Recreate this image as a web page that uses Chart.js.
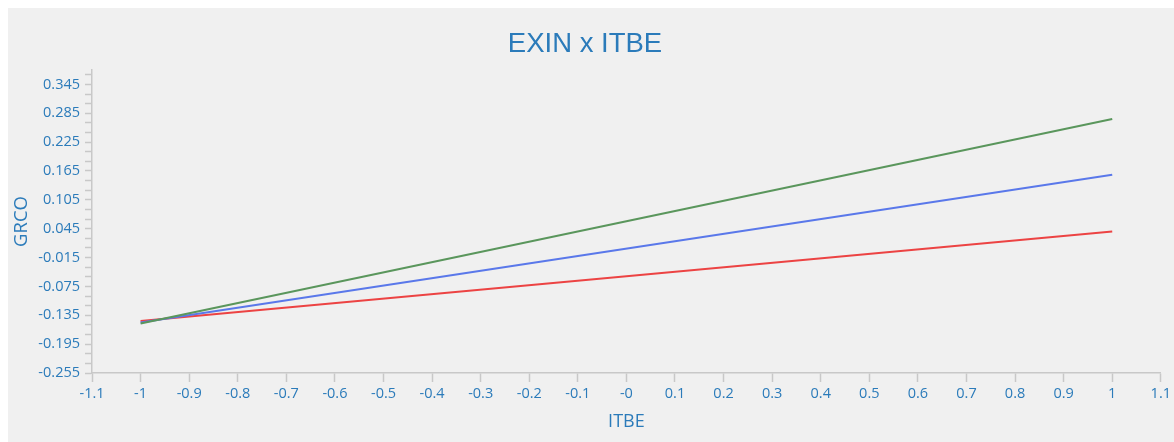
<!DOCTYPE html>
<html>
<head>
<meta charset="utf-8">
<script src="https://cdn.jsdelivr.net/npm/chart.js@4"></script>
<style>
  html, body { margin: 0; padding: 0; background: #ffffff; }
  #wrap { position: relative; width: 1174px; height: 442px; }
</style>
</head>
<body>
<div id="wrap"><canvas id="myChart"></canvas></div>
<script>
// ITBE endpoints of each fitted line
const itbe = [-1, 1];
const grcoGreen = [-0.152, 0.273];
const grcoBlue = [-0.150, 0.157];
const grcoRed = [-0.147, 0.039];

// axis ticks
const xTicks = [-1.1, -1, -0.9, -0.8, -0.7, -0.6, -0.5, -0.4, -0.3, -0.2, -0.1, 0,
  0.1, 0.2, 0.3, 0.4, 0.5, 0.6, 0.7, 0.8, 0.9, 1, 1.1];
const xLabels = ['-1.1', '-1', '-0.9', '-0.8', '-0.7', '-0.6', '-0.5', '-0.4', '-0.3', '-0.2', '-0.1', '-0',
  '0.1', '0.2', '0.3', '0.4', '0.5', '0.6', '0.7', '0.8', '0.9', '1', '1.1'];
const yMajor = [-0.255, -0.195, -0.135, -0.075, -0.015, 0.045, 0.105, 0.165, 0.225, 0.285, 0.345];
const yLabels = ['-0.255', '-0.195', '-0.135', '-0.075', '-0.015', '0.045', '0.105', '0.165', '0.225', '0.285', '0.345'];
const yMinor = [-0.255, -0.235, -0.215, -0.195, -0.175, -0.155, -0.135, -0.115, -0.095, -0.075,
  -0.055, -0.035, -0.015, 0.005, 0.025, 0.045, 0.065, 0.085, 0.105, 0.125, 0.145, 0.165,
  0.185, 0.205, 0.225, 0.245, 0.265, 0.285, 0.305, 0.325, 0.345, 0.365];

const toPoints = (ys) => itbe.map((x, i) => ({ x: x, y: ys[i] }));

const blueText = '#2b7bba';
const axisGray = '#c8c8c8';

const panelBg = {
  id: 'panelBg',
  beforeDraw(chart) {
    const c = chart.ctx;
    c.save();
    c.fillStyle = '#f0f0f0';
    c.fillRect(8, 8, chart.width - 8, chart.height - 8);
    c.restore();
  }
};

const ctx = document.getElementById('myChart');

new Chart(ctx, {
  type: 'scatter',
  data: {
    datasets: [
      { data: toPoints(grcoGreen), borderColor: '#5a965c', showLine: true, borderWidth: 2, pointRadius: 0 },
      { data: toPoints(grcoBlue), borderColor: '#5a78ea', showLine: true, borderWidth: 2, pointRadius: 0 },
      { data: toPoints(grcoRed), borderColor: '#ec4343', showLine: true, borderWidth: 2, pointRadius: 0 }
    ]
  },
  options: {
    responsive: true,
    maintainAspectRatio: false,
    animation: false,
    layout: { padding: { left: 8, right: 12, top: 0, bottom: 0 } },
    plugins: {
      legend: { display: false },
      tooltip: { enabled: false },
      title: {
        display: true,
        text: 'EXIN x ITBE',
        color: blueText,
        font: { family: 'Liberation Sans, Arial, sans-serif', size: 27.5, weight: 'normal' },
        padding: { top: 28, bottom: 9 }
      }
    },
    scales: {
      x: {
        type: 'linear',
        min: -1.1,
        max: 1.1,
        afterFit(scale) { scale.height = 69; },
        afterBuildTicks(scale) { scale.ticks = xTicks.map(v => ({ value: v })); },
        ticks: {
          color: blueText,
          font: { family: 'Open Sans, sans-serif', size: 14.5 },
          padding: 3,
          maxRotation: 0,
          autoSkip: false,
          callback: (v, i) => xLabels[i]
        },
        grid: { drawOnChartArea: false, color: axisGray, tickLength: 9, tickWidth: 1.5 },
        border: { color: axisGray, width: 1.5 },
        title: {
          display: true,
          text: 'ITBE',
          color: blueText,
          font: { family: 'Open Sans, sans-serif', size: 18 },
          padding: { top: 9, bottom: 9 }
        }
      },
      y: {
        type: 'linear',
        min: -0.255,
        max: 0.375,
        afterFit(scale) { scale.width = 84; },
        afterBuildTicks(scale) { scale.ticks = yMinor.map(v => ({ value: v })); },
        ticks: {
          color: blueText,
          font: { family: 'Open Sans, sans-serif', size: 14.5 },
          padding: 5,
          autoSkip: false,
          callback: (v) => {
            const k = yMajor.findIndex(m => Math.abs(m - v) < 1e-6);
            return k >= 0 ? yLabels[k] : '';
          }
        },
        grid: { drawOnChartArea: false, color: axisGray, tickLength: 7, tickWidth: 1.5 },
        border: { color: axisGray, width: 1.5 },
        title: {
          display: true,
          text: 'GRCO',
          color: blueText,
          font: { family: 'Open Sans, sans-serif', size: 18.5 },
          padding: { top: 3, bottom: 3 }
        }
      }
    }
  },
  plugins: [panelBg]
});
</script>
</body>
</html>
